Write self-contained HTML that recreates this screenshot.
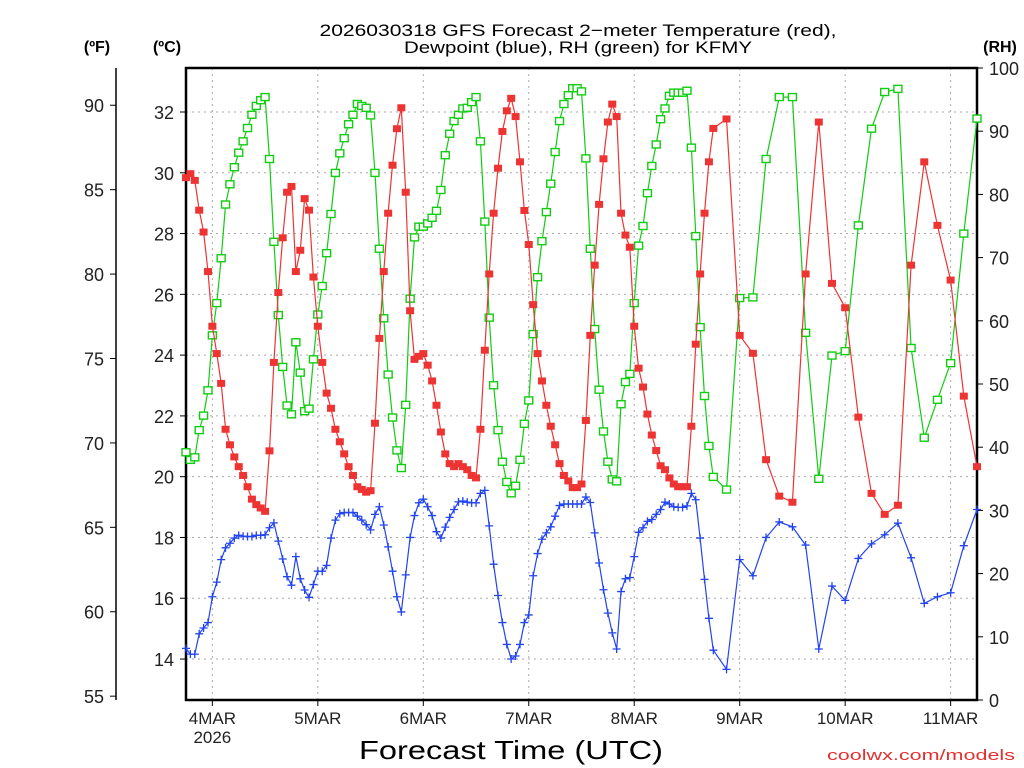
<!DOCTYPE html>
<html><head><meta charset="utf-8"><style>
html,body{margin:0;padding:0;background:#fff;}
svg{display:block;font-family:"Liberation Sans",sans-serif;}
</style></head><body>
<svg id="chart" width="1024" height="768" viewBox="0 0 1024 768" xmlns="http://www.w3.org/2000/svg">
<rect x="0" y="0" width="1024" height="768" fill="#fff"/>
<g font-size="17" fill="#000" text-anchor="middle">
<text x="578" y="36" textLength="517" lengthAdjust="spacingAndGlyphs">2026030318 GFS Forecast 2−meter Temperature (red),</text>
<text x="578" y="53" textLength="348" lengthAdjust="spacingAndGlyphs">Dewpoint (blue), RH (green) for KFMY</text>
</g>
<text x="97" y="52" font-size="16" font-weight="bold" text-anchor="middle">(ºF)</text>
<text x="167" y="52" font-size="16" font-weight="bold" text-anchor="middle">(ºC)</text>
<text x="1000" y="52" font-size="16" font-weight="bold" text-anchor="middle">(RH)</text>
<text x="511" y="759" font-size="26" text-anchor="middle" textLength="304" lengthAdjust="spacingAndGlyphs">Forecast Time (UTC)</text>
<text x="1015" y="760" font-size="15" fill="#e03030" text-anchor="end" textLength="188" lengthAdjust="spacingAndGlyphs">coolwx.com/models</text>
<g id="grid"></g>
<g id="axes"></g>
<g id="series"></g>
</svg>
<script>
const hoursHourly = []; for (let h = 0; h <= 120; h++) hoursHourly.push(h);
const hoursTail = [123,126,129,132,135,138,141,144,147,150,153,156,159,162,165,168,171,174,177,180];
const hours = hoursHourly.concat(hoursTail);
const temperatureC = [29.84,29.97,29.75,28.77,28.05,26.75,24.95,24.05,23.07,21.56,21.05,20.65,20.33,20.04,19.67,19.26,19.08,18.97,18.86,20.85,23.76,26.06,27.86,29.36,29.55,26.75,27.45,29.15,28.77,26.57,24.95,23.76,22.75,22.25,21.56,21.15,20.75,20.33,20.04,19.67,19.58,19.49,19.54,21.76,24.55,26.75,28.67,
30.25,31.45,32.14,29.36,25.46,23.86,23.96,24.05,23.67,23.15,22.35,21.47,20.75,20.43,20.33,20.43,20.33,20.23,20.04,19.96,21.56,24.16,26.67,28.67,30.15,31.36,32.04,32.45,31.85,30.36,28.76,27.64,25.66,24.05,23.15,22.35,21.66,21.05,20.43,20.04,19.86,19.64,19.64,19.76,21.85,24.65,
26.96,28.96,30.46,31.67,32.26,31.85,28.67,27.95,27.55,24.95,23.57,22.95,22.06,21.37,20.86,20.36,20.23,19.96,19.76,19.67,19.67,19.67,21.66,24.36,26.67,28.67,30.36,31.46,
31.77,24.65,24.06,20.56,19.36,19.16,26.67,31.67,26.36,25.56,21.96,19.45,18.76,19.06,26.96,30.36,28.27,26.47,22.65,20.33];
const dewpointC = [14.35,14.16,14.16,14.83,15.02,15.20,16.05,16.53,17.27,17.66,17.81,17.98,18.07,18.04,18.03,18.03,18.07,18.07,18.09,18.32,18.48,17.88,17.29,16.71,16.43,17.37,16.64,16.27,16.03,16.45,16.89,16.89,17.08,17.98,18.57,18.78,18.82,18.82,18.82,18.70,18.57,18.42,18.25,18.76,19.01,18.41,17.69,
16.89,16.05,15.55,16.77,18.00,18.72,19.14,19.26,19.01,18.72,18.19,17.98,18.34,18.66,18.92,19.17,19.20,19.16,19.14,19.14,19.45,19.55,18.38,17.12,16.09,15.20,14.48,14.00,14.10,14.48,15.20,15.45,16.74,17.47,17.94,18.15,18.35,18.70,19.05,19.10,19.10,19.10,19.10,19.10,19.33,19.15,
18.15,17.16,16.28,15.51,14.86,14.33,16.22,16.64,16.68,17.37,18.17,18.32,18.53,18.59,18.76,18.92,19.16,19.10,19.01,18.99,18.99,19.04,19.45,19.24,17.98,16.62,15.34,14.29,
13.66,17.27,16.74,18.00,18.51,18.35,17.75,14.33,16.40,15.93,17.31,17.79,18.09,18.47,17.33,15.83,16.05,16.18,17.73,18.92];
const relHumidity = [39.2,38.0,38.4,42.7,45.0,49.0,57.7,62.8,69.9,78.4,81.6,84.3,86.6,88.4,90.5,92.6,94.0,94.9,95.4,85.6,72.5,60.9,52.7,46.6,45.2,56.6,51.8,45.7,46.1,53.9,61.0,65.5,70.7,76.9,83.4,86.5,88.9,91.1,92.6,94.3,94.0,93.7,92.5,83.4,71.4,60.4,51.5,
44.7,39.5,36.7,46.7,63.5,73.2,74.9,74.9,75.4,76.3,77.4,80.7,86.2,89.6,91.6,92.6,93.6,93.7,94.6,95.4,88.4,75.7,60.5,49.8,42.7,37.7,34.5,32.7,33.9,38.0,43.7,47.4,57.9,66.9,72.6,77.2,81.7,86.7,91.6,94.3,95.7,96.8,96.8,96.3,85.7,71.4,
58.7,49.1,42.5,37.7,34.9,34.6,46.8,50.3,51.6,62.8,71.9,75.0,80.2,84.5,87.9,91.9,93.6,95.6,96.1,96.1,96.1,96.4,87.4,73.4,59.0,48.1,40.2,35.3,
33.3,63.6,63.7,85.6,95.4,95.4,58.1,35.0,54.5,55.2,75.1,90.4,96.2,96.7,55.7,41.5,47.5,53.3,73.8,92.0];
const celsiusTicks = [14,16,18,20,22,24,26,28,30,32];
const fahrenheitTicks = [55,60,65,70,75,80,85,90];
const rhTicks = [0,10,20,30,40,50,60,70,80,90,100];
const dayLabels = ['4MAR','5MAR','6MAR','7MAR','8MAR','9MAR','10MAR','11MAR'];
const dayHours = [6,30,54,78,102,126,150,174];

const NS = 'http://www.w3.org/2000/svg';
const L = 186, R = 977, T = 68, B = 700;
const xOf = h => L + (h / 180) * (R - L);
const yC = c => 112 + (32 - c) * 30.39;
const yF = f => yC((f - 32) / 1.8);
const yRH = r => B - r / 100 * (B - T);
function mk(tag, attrs, parent) {
  const e = document.createElementNS(NS, tag);
  for (const k in attrs) e.setAttribute(k, attrs[k]);
  parent.appendChild(e); return e;
}
const grid = document.getElementById('grid');
const axes = document.getElementById('axes');
const series = document.getElementById('series');

celsiusTicks.forEach(c => {
  const y = yC(c);
  const g = mk('line', {x1: L, x2: R, y1: y, y2: y, stroke: '#aaa', 'stroke-dasharray': '2,4'}, grid);
  
  
  const t = mk('line', {x1: L - 6, x2: L, y1: y, y2: y, stroke: '#000'}, axes);
  
  
  const lb = mk('text', {x: 174, y: y + 7, 'font-size': 18, 'text-anchor': 'end', fill: '#222'}, axes);
  lb.textContent = c;
  
  
});
fahrenheitTicks.forEach(f => {
  const y = yF(f);
  const t = mk('line', {x1: 110, x2: 116, y1: y, y2: y, stroke: '#000'}, axes);
  
  
  const lb = mk('text', {x: 104, y: y + 7, 'font-size': 18, 'text-anchor': 'end', fill: '#222'}, axes);
  lb.textContent = f;
  
  
});
const fAxis = mk('line', {x1: 116, x2: 116, y1: T, y2: B, stroke: '#000', 'stroke-width': 1.5}, axes);


rhTicks.forEach(r => {
  const y = yRH(r);
  const t = mk('line', {x1: R, x2: R + 6, y1: y, y2: y, stroke: '#000'}, axes);
  
  
  const lb = mk('text', {x: 989, y: y + 7, 'font-size': 18, fill: '#222'}, axes);
  lb.textContent = r;
  
  
});
dayHours.forEach((h, i) => {
  const x = xOf(h);
  const g = mk('line', {x1: x, x2: x, y1: T, y2: B, stroke: '#aaa', 'stroke-dasharray': '2,4'}, grid);
  
  
  const t = mk('line', {x1: x, x2: x, y1: B, y2: B + 6, stroke: '#000'}, axes);
  
  
  const lb = mk('text', {x: x, y: 724, 'font-size': 17, 'text-anchor': 'middle', fill: '#222'}, axes);
  lb.textContent = dayLabels[i];
  
  
});
const yr = mk('text', {x: xOf(6), y: 743, 'font-size': 17, 'text-anchor': 'middle', fill: '#222'}, axes);
yr.textContent = '2026';


const frame = mk('rect', {x: L, y: T, width: R - L, height: B - T, fill: 'none', stroke: '#000', 'stroke-width': 2.5}, axes);



function drawSeries(vals, yfn, color, kind, name) {
  const g = mk('g', {}, series);
  
  
  const pts = vals.map((v, i) => xOf(hours[i]).toFixed(1) + ',' + yfn(v).toFixed(1)).join(' ');
  const pl = mk('polyline', {points: pts, fill: 'none', stroke: color, 'stroke-width': 1.2}, g);
  
  
  vals.forEach((v, i) => {
    const x = xOf(hours[i]), y = yfn(v);
    let m;
    if (kind === 'filled') m = mk('rect', {x: x - 4, y: y - 3.5, width: 8, height: 7, fill: color}, g);
    else if (kind === 'hollow') m = mk('rect', {x: x - 4, y: y - 3.5, width: 8, height: 7, fill: '#fff', stroke: color, 'stroke-width': 1.4}, g);
    else m = mk('path', {d: `M${x-4},${y}H${x+4}M${x},${y-4}V${y+4}`, stroke: color, 'stroke-width': 1.3}, g);
    
    
  });
}
drawSeries(relHumidity, yRH, '#11cc11', 'hollow', 'rh-series');
drawSeries(temperatureC, yC, '#ee3333', 'filled', 'temperature-series');
drawSeries(dewpointC, yC, '#2244ee', 'plus', 'dewpoint-series');
</script>
</body></html>
